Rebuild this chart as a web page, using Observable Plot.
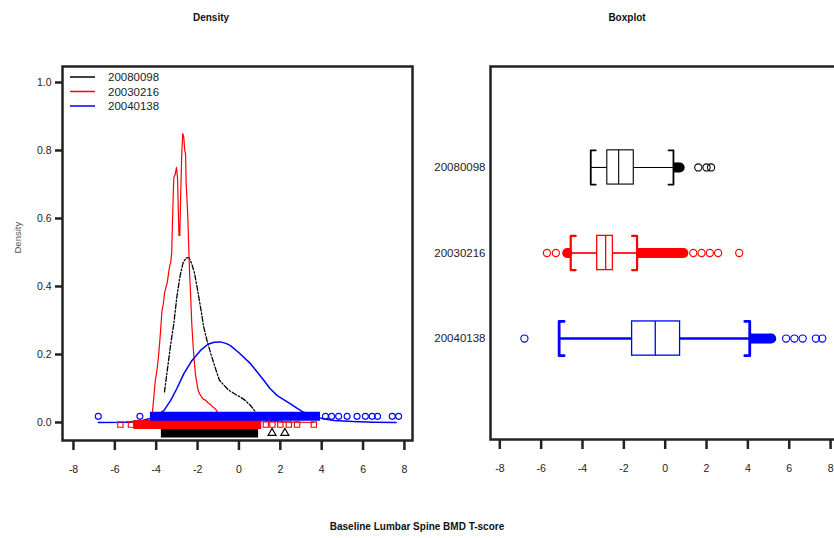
<!DOCTYPE html>
<html>
<head>
<meta charset="utf-8">
<script src="https://cdn.jsdelivr.net/npm/d3@7"></script>
<script src="https://cdn.jsdelivr.net/npm/@observablehq/plot@0.6"></script>
<style>
  body { margin: 0; background: #fff; }
  #chart { position: relative; width: 834px; height: 538px; overflow: hidden; background: #fff;
           font-family: "Liberation Sans", Arial, sans-serif; }
  #chart svg { position: absolute; top: 0; }
  .title { position: absolute; font-weight: bold; font-size: 10px; color: #111;
           transform: translateX(-50%); white-space: nowrap; }
</style>
</head>
<body>
<div id="chart">
  <div class="title" style="left:211px; top:12px">Density</div>
  <div class="title" style="left:627px; top:12px">Boxplot</div>
  <div class="title" style="left:417px; top:521px">Baseline Lumbar Spine BMD T-score</div>
</div>
<script>
// Study groups and their colours
const groups = ["20080098", "20030216", "20040138"];
const groupColors = ["#000000", "#ff0000", "#0000ff"];

// Axis ticks
const xTicks = [-8, -6, -4, -2, 0, 2, 4, 6, 8];
const yTicks = [0, 0.2, 0.4, 0.6, 0.8, 1.0];

// Kernel density estimates: [T-score, density]
const density20080098 = [
  [-3.60, 0.09], [-3.45, 0.16], [-3.30, 0.23], [-3.15, 0.29], [-3.00, 0.37], [-2.85, 0.43],
  [-2.70, 0.47], [-2.55, 0.484], [-2.42, 0.485], [-2.30, 0.47], [-2.15, 0.44], [-2.00, 0.39],
  [-1.86, 0.34], [-1.70, 0.28], [-1.54, 0.24], [-1.35, 0.20], [-1.14, 0.16], [-0.95, 0.125],
  [-0.73, 0.11], [-0.50, 0.095], [-0.33, 0.089], [-0.10, 0.08], [0.07, 0.075], [0.30, 0.065],
  [0.56, 0.05], [0.75, 0.035], [0.88, 0.026], [1.00, 0.015], [1.30, 0.008], [1.60, 0.006],
  [2.00, 0.004], [2.20, 0.002]
];
const density20030216 = [
  [-5.73, 0.0], [-4.30, 0.002], [-4.20, 0.02], [-4.12, 0.07], [-4.05, 0.12], [-3.95, 0.16],
  [-3.88, 0.20], [-3.80, 0.26], [-3.72, 0.33], [-3.65, 0.35], [-3.60, 0.38], [-3.52, 0.40],
  [-3.47, 0.41], [-3.40, 0.44], [-3.35, 0.46], [-3.30, 0.47], [-3.25, 0.50], [-3.20, 0.62],
  [-3.15, 0.72], [-3.08, 0.73], [-3.02, 0.75], [-2.97, 0.72], [-2.93, 0.62], [-2.90, 0.55],
  [-2.86, 0.55], [-2.82, 0.66], [-2.77, 0.78], [-2.72, 0.85], [-2.67, 0.84], [-2.62, 0.80],
  [-2.58, 0.79], [-2.55, 0.70], [-2.50, 0.64], [-2.47, 0.60], [-2.42, 0.50], [-2.38, 0.43],
  [-2.34, 0.38], [-2.28, 0.29], [-2.22, 0.23], [-2.16, 0.18], [-2.10, 0.14], [-2.02, 0.11],
  [-1.95, 0.09], [-1.86, 0.08], [-1.75, 0.07], [-1.60, 0.065], [-1.50, 0.058], [-1.38, 0.053],
  [-1.25, 0.045], [-1.14, 0.04], [-1.05, 0.032], [-0.90, 0.02], [-0.50, 0.012], [0.00, 0.008],
  [1.00, 0.004], [2.00, 0.002], [3.61, 0.0]
];
const density20040138 = [
  [-6.80, 0.0], [-5.50, 0.001], [-4.80, 0.004], [-4.30, 0.012], [-4.00, 0.02], [-3.63, 0.035],
  [-3.30, 0.065], [-3.00, 0.10], [-2.67, 0.143], [-2.30, 0.18], [-1.86, 0.212], [-1.50, 0.23],
  [-1.20, 0.236], [-0.89, 0.237], [-0.60, 0.232], [-0.41, 0.226], [0.00, 0.205], [0.56, 0.173],
  [0.90, 0.147], [1.20, 0.124], [1.50, 0.10], [1.85, 0.079], [2.20, 0.066], [2.49, 0.055],
  [2.80, 0.042], [3.13, 0.03], [3.50, 0.022], [4.00, 0.012], [4.60, 0.006], [5.50, 0.003],
  [6.50, 0.001], [7.60, 0.0]
];
const densities = [density20080098, density20030216, density20040138];

// Individual observations under the curves: densely packed stretches [from, to] and sparse values
const stripDense = [[-3.75, 0.95], [-5.08, 1.10], [-4.28, 3.94]];
const stripSparse = [
  [1.60, 2.22],
  [-5.73, -5.22, 1.30, 1.62, 2.00, 2.41, 2.81, 3.62],
  [-6.80, -4.79, 4.18, 4.48, 4.82, 5.23, 5.71, 6.11, 6.44, 6.70, 7.41, 7.72]
];

// Box plot summaries
const whiskerLow  = [-3.60, -4.57, -5.13];
const quartile1   = [-2.80, -3.29, -1.60];
const medians     = [-2.25, -2.88, -0.48];
const quartile3   = [-1.52, -2.53, 0.72];
const whiskerHigh = [0.40, -1.36, 4.09];

// Outliers beyond the whiskers: packed runs [whisker side, farthest packed value] and sparse values
const outlierDense = [
  [[0.40, 0.70]],
  [[-4.57, -4.74], [-1.36, 0.88]],
  [[4.09, 5.13]]
];
const outlierSparse = [
  [1.60, 2.00, 2.22],
  [-5.72, -5.29, 1.36, 1.76, 2.16, 2.56, 3.58],
  [-6.81, 5.85, 6.25, 6.65, 7.29, 7.60]
];

const font = "'Liberation Sans', Arial, sans-serif";
const chart = document.getElementById("chart");

// ---------- Density panel ----------
const stripLevel = [-0.031, -0.006, 0.018];
const stripSymbol = ["triangle", "square", "circle"];
const curveStyle = [
  {strokeWidth: 1.3, strokeDasharray: "5,2,1.5,2"},
  {strokeWidth: 1.2},
  {strokeWidth: 1.5}
];

const densityMarks = [];
groups.forEach((g, i) => {
  densityMarks.push(Plot.line(densities[i], {x: d => d[0], y: d => d[1], stroke: groupColors[i], ...curveStyle[i]}));
});
groups.forEach((g, i) => {
  densityMarks.push(Plot.ruleY([stripDense[i]], {
    y: () => stripLevel[i], x1: d => d[0], x2: d => d[1],
    stroke: groupColors[i], strokeWidth: 9
  }));
  densityMarks.push(Plot.dot(stripSparse[i], {
    x: d => d, y: () => stripLevel[i], symbol: stripSymbol[i], r: 3,
    stroke: groupColors[i], strokeWidth: 1.1, fill: "none"
  }));
});

const densityPlot = Plot.plot({
  width: 420, height: 538,
  marginLeft: 62, marginRight: 8, marginTop: 66, marginBottom: 98,
  style: {fontFamily: font, fontSize: "10.5px", color: "#222", background: "transparent", overflow: "visible"},
  x: {domain: [-8.53, 8.39]},
  y: {domain: [-0.053, 1.047]},
  marks: [
    ...densityMarks,
    Plot.axisX({ticks: xTicks, tickSize: 10, tickPadding: 15, strokeWidth: 2.5, tickFormat: d => String(d), label: null}),
    Plot.axisY({ticks: yTicks, tickSize: 7, tickPadding: 4, strokeWidth: 2.5, tickFormat: d3.format(".1f"), label: null}),
    Plot.text(["Density"], {text: d => d, frameAnchor: "left", dx: -45, rotate: -90, fontSize: 9.5, fill: "#555"}),
    Plot.frame({strokeWidth: 2.5})
  ]
});
densityPlot.style.left = "0px";
chart.appendChild(densityPlot);

// Legend in the upper-left corner of the density panel
const legend = d3.select(densityPlot).append("g")
  .attr("font-family", font).attr("font-size", 11.5).attr("text-anchor", "start");
groups.forEach((g, i) => {
  const y = 77 + i * 14.5;
  legend.append("line").attr("x1", 70).attr("x2", 95).attr("y1", y).attr("y2", y)
    .attr("stroke", groupColors[i]).attr("stroke-width", 1.5);
  legend.append("text").attr("x", 108).attr("y", y).attr("dy", "0.35em").attr("fill", "#222").text(g);
});

// ---------- Box plot panel ----------
const half = 0.2;      // half box height, in row units
const serif = 0.24;    // bracket serif length, in T-score units
const boxStyle = [
  {whisker: 1.1, cap: 1.8, box: 1.1},
  {whisker: 1.7, cap: 2.2, box: 1.3},
  {whisker: 2.6, cap: 2.8, box: 1.3}
];

const boxMarks = [];
groups.forEach((g, i) => {
  const row = i + 1;
  const c = groupColors[i];
  const s = boxStyle[i];
  // whiskers
  boxMarks.push(Plot.ruleY([[whiskerLow[i], quartile1[i]], [quartile3[i], whiskerHigh[i]]], {
    y: () => row, x1: d => d[0], x2: d => d[1], stroke: c, strokeWidth: s.whisker
  }));
  // bracket caps
  const caps = [
    [[whiskerLow[i] + serif, row - half], [whiskerLow[i], row - half], [whiskerLow[i], row + half], [whiskerLow[i] + serif, row + half]],
    [[whiskerHigh[i] - serif, row - half], [whiskerHigh[i], row - half], [whiskerHigh[i], row + half], [whiskerHigh[i] - serif, row + half]]
  ];
  caps.forEach(cap => boxMarks.push(Plot.line(cap, {x: d => d[0], y: d => d[1], stroke: c, strokeWidth: s.cap})));
  // box and median
  boxMarks.push(Plot.rect([i], {
    x1: () => quartile1[i], x2: () => quartile3[i], y1: () => row - half, y2: () => row + half,
    fill: "white", stroke: c, strokeWidth: s.box
  }));
  boxMarks.push(Plot.ruleX([medians[i]], {x: d => d, y1: row - half, y2: row + half, stroke: c, strokeWidth: s.box}));
  // outliers: packed runs end in a filled blob, sparse ones are open circles
  boxMarks.push(Plot.ruleY(outlierDense[i], {
    y: () => row, x1: d => d[0], x2: d => d[1], stroke: c, strokeWidth: 10
  }));
  boxMarks.push(Plot.dot(outlierDense[i], {
    x: d => d[1], y: () => row, r: 5, fill: c, stroke: "none"
  }));
  boxMarks.push(Plot.dot(outlierSparse[i], {
    x: d => d, y: () => row, r: 3.6, stroke: c, strokeWidth: 1.1, fill: "none"
  }));
});

const boxPlot = Plot.plot({
  width: 420, height: 538,
  marginLeft: 70, marginRight: 0, marginTop: 66, marginBottom: 99,
  style: {fontFamily: font, fontSize: "10.5px", color: "#222", background: "transparent", overflow: "visible"},
  x: {domain: [-8.45, 8.48]},
  y: {domain: [4.18, -0.18]},
  marks: [
    ...boxMarks,
    Plot.axisX({ticks: xTicks, tickSize: 10, tickPadding: 15, strokeWidth: 2.5, tickFormat: d => String(d), label: null}),
    Plot.axisY({ticks: [1, 2, 3], tickSize: 0, tickPadding: 5, fontSize: 11.5, tickFormat: d => groups[d - 1], label: null}),
    Plot.frame({strokeWidth: 2.5})
  ]
});
boxPlot.style.left = "420px";
chart.appendChild(boxPlot);
</script>
</body>
</html>
